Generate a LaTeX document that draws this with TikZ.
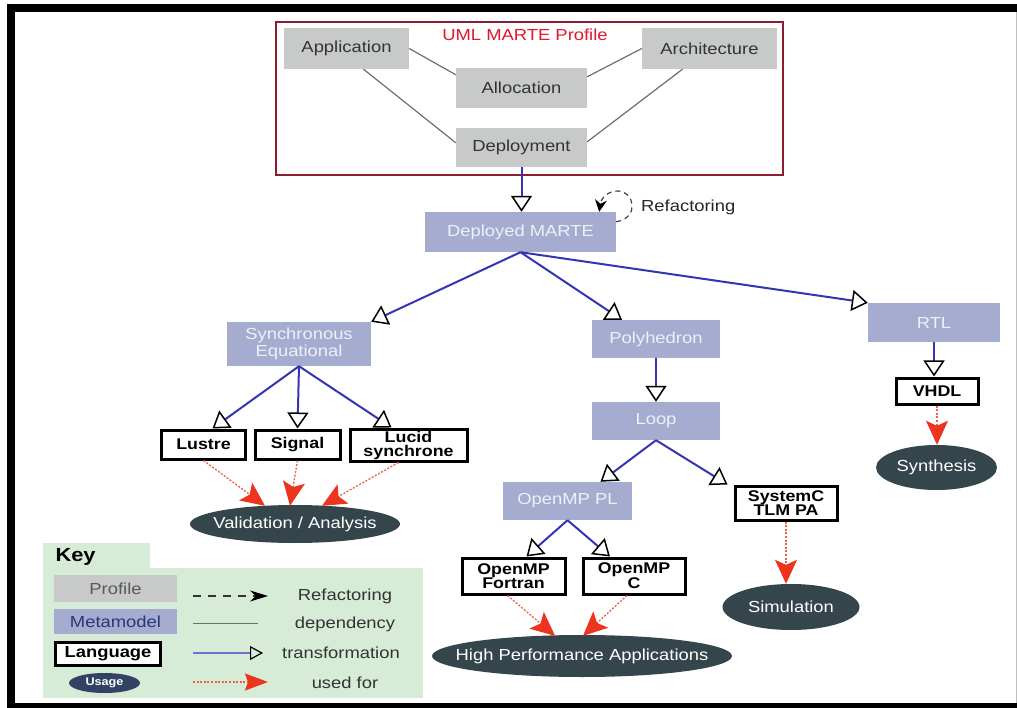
\documentclass[tikz,border=0pt]{standalone}
\usepackage{fontspec}
\setmainfont{Liberation Sans}[FakeStretch=1.15]
\usetikzlibrary{arrows.meta,shapes.geometric}

\definecolor{profgray}{RGB}{200,202,202}
\definecolor{metablue}{RGB}{165,172,208}
\definecolor{metatext}{RGB}{238,240,248}
\definecolor{usedark}{RGB}{52,70,75}
\definecolor{transblue}{RGB}{52,52,180}
\definecolor{usedred}{RGB}{236,52,30}
\definecolor{framered}{RGB}{140,28,48}
\definecolor{titlered}{RGB}{226,24,44}
\definecolor{keygreen}{RGB}{214,236,214}
\definecolor{depgray}{RGB}{110,110,110}
\definecolor{keyuse}{RGB}{50,66,100}
\definecolor{keymeta}{RGB}{40,55,120}

\tikzset{
  base/.style={inner sep=1pt, align=center, font=\fontsize{16}{16.5}\selectfont},
  prof/.style={base, rectangle, fill=profgray, text=black!80},
  meta/.style={base, rectangle, fill=metablue, text=metatext},
  lang/.style={base, rectangle, draw=black, line width=3pt, fill=white,
    font=\bfseries\fontsize{15.5}{14}\selectfont},
  usage/.style={base, ellipse, fill=usedark, text=white, inner xsep=-30pt, inner ysep=-6pt},
  keytext/.style={base, text=black!80},
  dep/.style={draw=depgray, line width=1.2pt},
  trans/.style={draw=transblue, line width=2pt,
    -{Triangle[open, length=16pt, width=21pt, color=black, line width=1.5pt]}},
  used/.style={draw=usedred!80, line width=1.3pt, dash pattern=on 2pt off 1.6pt,
    -{Stealth[length=24pt, width=22pt, inset=5pt, color=usedred, fill=usedred]}},
  loopref/.style={draw=black!75, line width=1.2pt, dash pattern=on 5pt off 4pt,
    -{Stealth[length=12pt, width=12pt, color=black, fill=black]}},
}

\begin{document}
\begin{tikzpicture}[x=1pt, y=-1pt]
  % page and frame
  \fill[white] (0,0) rectangle (1017,708);
  \useasboundingbox (0,0) rectangle (1017,708);
  \fill[black] (7,4) rectangle (1017,12);
  \fill[black] (7,4) rectangle (15,708);
  \fill[black] (7,703) rectangle (1017,708);
  \draw[black!25, line width=1pt] (1016,12) -- (1016,703);

  % UML MARTE profile package
  \node[draw=framered, line width=2pt, minimum width=507, minimum height=153,
        inner sep=0pt] (profile) at (529.5,98.5) {};
  \node[base, text=titlered] (ptitle) at (525,35) {UML MARTE Profile};
  \node[prof, minimum width=125, minimum height=41] (app) at (346.5,48.5) {Application};
  \node[prof, minimum width=135, minimum height=41] (arch) at (709.5,48.5) {Architecture};
  \node[prof, minimum width=131, minimum height=40] (alloc) at (521.5,88) {Allocation};
  \node[prof, minimum width=131, minimum height=39] (depl) at (521.5,147.5) {Deployment};

  \draw[dep] (app.east) -- ([yshift=-7pt]alloc.north west);
  \draw[dep] (arch.west) -- ([yshift=-9pt]alloc.north east);
  \draw[dep] ([xshift=17pt]app.south) -- ([yshift=-15pt]depl.north west);
  \draw[dep] ([xshift=-27pt]arch.south) -- ([yshift=-14pt]depl.north east);

  % metamodels
  \node[meta, minimum width=191, minimum height=40] (dm) at (520.5,232) {Deployed MARTE};
  \node[meta, minimum width=144, minimum height=44] (se) at (299,344) {Synchronous\\Equational};
  \node[meta, minimum width=128, minimum height=38] (poly) at (656,339) {Polyhedron};
  \node[meta, minimum width=132, minimum height=39] (rtl) at (934,322.5) {RTL};
  \node[meta, minimum width=128, minimum height=38] (loop) at (656,421) {Loop};
  \node[meta, minimum width=129, minimum height=38] (ompl) at (567.5,501) {OpenMP PL};

  % languages
  \node[lang, minimum width=84, minimum height=29] (lustre) at (203.5,444.5) {Lustre};
  \node[lang, minimum width=85, minimum height=29] (signal) at (297.5,444.5) {Signal};
  \node[lang, minimum width=117, minimum height=32] (lucid) at (408.5,445) {Lucid\\synchrone};
  \node[lang, minimum width=102, minimum height=34] (sysc) at (786,503) {SystemC\\TLM PA};
  \node[lang, minimum width=103, minimum height=36] (fort) at (513.5,576) {OpenMP\\Fortran};
  \node[lang, minimum width=102, minimum height=36] (ompc) at (634,576) {OpenMP\\C};
  \node[lang, minimum width=82, minimum height=26] (vhdl) at (937,391) {VHDL};

  % usages
  \node[usage, minimum width=210, minimum height=38] (va) at (295,524) {Validation / Analysis};
  \node[usage, minimum width=300, minimum height=42] (hpa) at (582,656) {High Performance Applications};
  \node[usage, minimum width=137, minimum height=46] (sim) at (791,607) {Simulation};
  \node[usage, minimum width=121, minimum height=45] (syn) at (936.5,467.5) {Synthesis};

  % refactoring self loop
  \coordinate (rtop) at (618,191);
  \draw[loopref] ([yshift=-10pt]dm.north east) .. controls +(24,-4) and +(16,0) .. (rtop)
        .. controls +(-10,0) and +(2,-14) .. ([xshift=-17pt]dm.north east);
  \node[base, anchor=west, text=black!85] (reflabel) at (640,207) {Refactoring};

  % transformations
  \draw[trans] (depl.south) -- (depl.south |- dm.north);
  \draw[trans] (dm.south) -- (se.north east);
  \draw[trans] (dm.south) -- ([xshift=-34pt]poly.north);
  \draw[trans] (dm.south) -- (rtl.north west);
  \draw[trans] (poly.south) -- (loop.north);
  \draw[trans] (rtl.south) -- (rtl.south |- vhdl.north);
  \draw[trans] (se.south) -- ([xshift=9pt]lustre.north);
  \draw[trans] (se.south) -- (signal.north);
  \draw[trans] (se.south) -- ([xshift=-17pt]lucid.north);
  \draw[trans] (loop.south) -- ([xshift=33pt]ompl.north);
  \draw[trans] (loop.south) -- ([xshift=-6pt]sysc.north west);
  \draw[trans] (ompl.south) -- ([xshift=13pt]fort.north);
  \draw[trans] (ompl.south) -- ([xshift=-24pt]ompc.north);

  % used for
  \draw[used] (lustre.south) -- ([xshift=-30pt,yshift=-1pt]va.north);
  \draw[used] (signal.south) -- ([xshift=-5pt,yshift=-1pt]va.north);
  \draw[used] ([xshift=-10pt]lucid.south) -- ([xshift=27pt,yshift=-1pt]va.north);
  \draw[used] ([xshift=-6pt]fort.south) -- ([xshift=-27pt,yshift=-1pt]hpa.north);
  \draw[used] ([xshift=-7pt]ompc.south) -- ([xshift=1pt,yshift=-1pt]hpa.north);
  \draw[used] (sysc.south) -- (sysc.south |- sim.north);
  \draw[used] (vhdl.south) -- (vhdl.south |- syn.north);

  % key
  \fill[keygreen] (43,543) rectangle (150,569);
  \fill[keygreen] (43,568) rectangle (423,698);
  \node[anchor=west, font=\bfseries\fontsize{19}{20}\selectfont] (keytitle) at (52,557) {Key};
  \node[prof, minimum width=123, minimum height=27, text=black!65] (kprof) at (115.5,588.5) {Profile};
  \node[meta, minimum width=123, minimum height=25, text=keymeta] (kmeta) at (115.5,621.5) {Metamodel};
  \node[lang, minimum width=105, minimum height=23, font=\bfseries\fontsize{16}{16}\selectfont] (klang) at (108,653.5) {Language};
  \node[usage, minimum width=71, minimum height=20, fill=keyuse,
        font=\bfseries\fontsize{11}{11}\selectfont] (kuse) at (104.5,683) {Usage};

  \coordinate (kra) at (193,596);  \coordinate (krb) at (268,596);
  \coordinate (kda) at (193,623);  \coordinate (kdb) at (258,623);
  \coordinate (kta) at (193,653);  \coordinate (ktb) at (263,653);
  \coordinate (kua) at (193,682);  \coordinate (kub) at (268,682);
  \draw[draw=black!80, line width=1.2pt, dash pattern=on 8pt off 7pt,
        -{Stealth[length=18pt, width=11pt, color=black, fill=black]}] (kra) -- (krb);
  \draw[dep, line width=1pt] (kda) -- (kdb);
  \draw[draw=transblue!70, line width=2pt,
        -{Triangle[open, length=13pt, width=14pt, color=black, line width=1.2pt]}] (kta) -- (ktb);
  \draw[used, -{Stealth[length=23pt, width=17pt, inset=3pt, color=usedred, fill=usedred]}] (kua) -- (kub);

  \node[keytext] (klr) at (345,596) {Refactoring};
  \node[keytext] (kld) at (345,624) {dependency};
  \node[keytext] (klt) at (341,653) {transformation};
  \node[keytext] (klu) at (345,683) {used for};
\end{tikzpicture}
\end{document}
